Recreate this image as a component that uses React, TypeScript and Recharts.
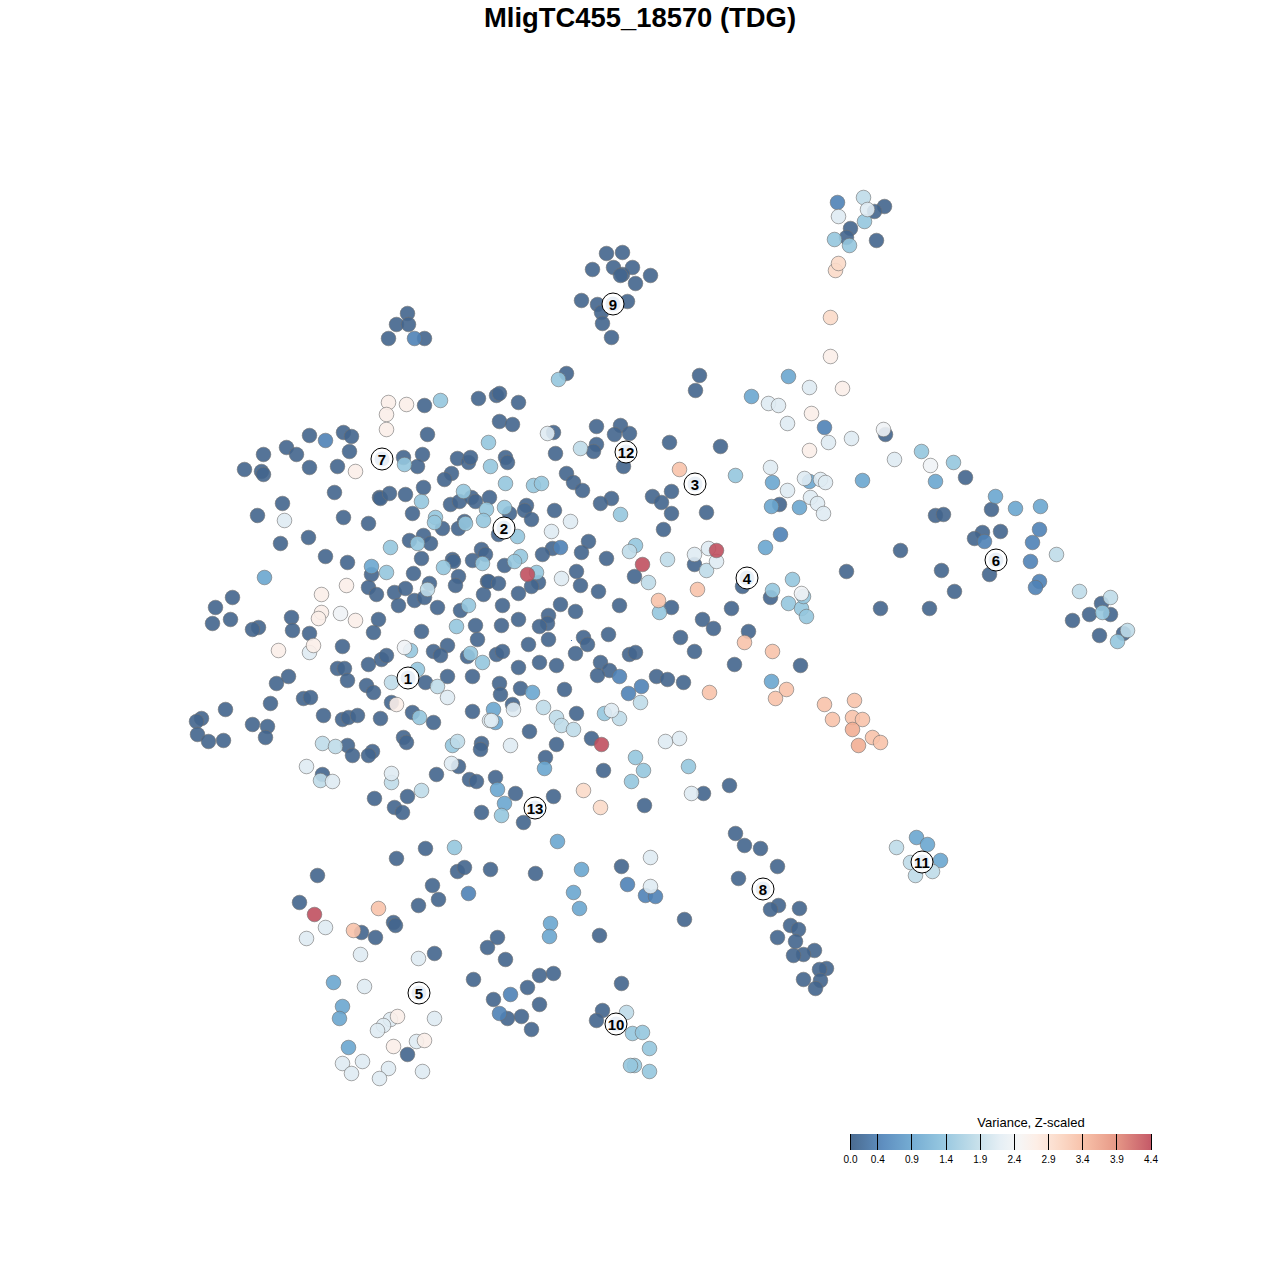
import React from 'react';
import { ScatterChart, Scatter, XAxis, YAxis } from 'recharts';

type Pt = [number, number];

// Embedding positions, grouped by colour step (low variance to high)
const level0: Pt[] = [
  [478,398],[424,405],[427,434],[309,435],[343,432],[351,436],[263,454],[286,447],[296,454],[349,451],
  [244,469],[261,471],[263,474],[309,467],[337,466],[403,457],[422,454],[417,466],[457,458],[468,462],
  [470,457],[451,473],[444,479],[334,492],[379,497],[380,498],[389,493],[405,494],[423,487],[282,503],
  [257,515],[343,517],[368,523],[412,513],[450,504],[459,501],[471,497],[475,501],[489,497],[442,528],
  [458,528],[464,521],[308,537],[280,543],[325,556],[347,562],[409,540],[423,535],[430,543],[421,558],
  [452,559],[453,561],[472,560],[481,549],[371,574],[413,573],[458,576],[455,585],[487,581],[368,587],
  [376,594],[394,592],[405,588],[429,583],[414,600],[424,597],[398,605],[437,607],[460,610],[483,594],
  [232,597],[215,607],[212,623],[230,619],[291,617],[258,627],[252,629],[292,630],[309,633],[378,619],
  [373,632],[421,631],[475,625],[496,395],[499,393],[518,402],[499,421],[512,424],[553,432],[596,426],
  [620,425],[614,434],[629,433],[596,444],[593,451],[555,453],[669,442],[720,446],[695,390],[699,375],
  [623,466],[566,473],[573,482],[582,490],[611,498],[600,503],[652,496],[661,502],[671,491],[671,513],
  [706,512],[663,529],[505,457],[507,462],[526,505],[524,510],[531,519],[554,510],[509,513],[498,534],
  [588,541],[581,552],[552,548],[542,554],[606,558],[485,554],[504,565],[694,564],[576,571],[634,576],
  [488,581],[498,583],[538,582],[531,586],[518,593],[580,585],[598,591],[502,605],[560,604],[575,611],
  [619,605],[671,607],[702,619],[713,628],[518,619],[501,625],[548,615],[547,623],[539,626],[731,608],
  [342,646],[477,639],[447,645],[433,651],[440,655],[467,656],[368,664],[381,659],[386,655],[337,668],
  [344,668],[347,680],[288,676],[276,683],[366,685],[373,692],[425,682],[447,676],[472,676],[270,703],
  [303,698],[310,697],[391,702],[225,709],[201,718],[196,721],[197,734],[208,741],[223,740],[252,724],
  [267,726],[265,737],[323,715],[342,719],[348,717],[357,715],[380,718],[412,712],[433,722],[472,711],
  [403,737],[406,742],[347,745],[352,755],[372,751],[368,755],[481,743],[480,749],[458,766],[436,774],
  [469,779],[476,781],[322,774],[407,796],[374,798],[394,807],[402,812],[481,812],[425,848],[548,639],
  [528,644],[583,637],[587,644],[608,634],[575,653],[496,654],[502,651],[629,654],[635,652],[680,637],
  [694,651],[518,667],[539,662],[556,665],[600,662],[609,670],[597,675],[656,676],[667,679],[683,682],
  [499,683],[520,688],[500,694],[564,689],[512,704],[576,713],[529,731],[591,738],[556,744],[545,757],
  [603,770],[495,777],[515,793],[553,796],[523,822],[644,805],[703,793],[729,785],[734,664],[566,373],
  [779,504],[885,434],[900,550],[742,586],[770,597],[846,571],[880,608],[929,608],[748,631],[800,665],
  [965,477],[991,509],[1000,531],[982,532],[974,538],[935,515],[943,514],[941,570],[954,591],[989,574],
  [1101,603],[1089,614],[1110,614],[1072,620],[1099,635],[1123,633],[396,858],[317,875],[457,871],[464,867],
  [490,869],[535,873],[432,885],[438,899],[418,905],[299,902],[393,922],[395,925],[361,932],[375,937],
  [497,937],[487,947],[505,959],[434,953],[473,979],[539,975],[553,973],[527,987],[493,999],[539,1004],
  [507,1018],[521,1016],[531,1029],[407,1054],[621,866],[684,919],[599,935],[621,983],[602,1010],[596,1020],
  [735,833],[744,845],[760,848],[777,866],[738,878],[778,905],[770,909],[799,908],[790,925],[798,929],
  [777,937],[795,941],[814,950],[803,954],[793,955],[826,968],[819,969],[803,979],[820,980],[815,988],
  [606,253],[622,252],[592,269],[613,267],[632,267],[622,274],[620,275],[650,275],[635,283],[581,300],
  [597,304],[627,301],[601,312],[602,323],[611,337],[407,313],[396,324],[408,324],[388,338],[424,338],
  [884,206],[874,211],[850,228],[846,237],[876,240],
];
const level1: Pt[] = [
  [325,440],[560,547],[619,676],[641,686],[628,693],[824,427],[780,534],[468,893],[510,994],[499,1013],
  [414,338],[1039,529],[1032,542],[984,541],[1030,561],[1039,581],[1035,587],[837,202],[627,884],[645,895],[655,896],
];
const level2: Pt[] = [
  [371,566],[264,577],[532,692],[493,709],[495,722],[544,768],[497,789],[504,803],[557,841],[788,376],
  [751,396],[772,482],[771,506],[799,507],[862,480],[765,547],[809,481],[771,681],[935,481],[995,496],
  [1015,508],[1040,506],[333,982],[342,1006],[339,1018],[348,1047],[550,923],[549,936],[581,869],[573,892],
  [579,908],[916,837],[927,844],[940,860],
];
const level3: Pt[] = [
  [440,400],[488,442],[404,464],[421,501],[463,491],[486,509],[435,517],[434,522],[483,520],[465,523],
  [390,547],[417,543],[443,567],[482,563],[386,572],[490,466],[468,605],[456,626],[505,483],[533,485],
  [541,483],[504,507],[517,536],[520,556],[514,561],[536,572],[620,514],[635,545],[659,612],[558,379],
  [410,650],[470,653],[482,662],[417,669],[419,717],[452,745],[454,847],[604,713],[501,815],[635,757],
  [643,770],[631,781],[688,766],[735,475],[792,579],[772,590],[788,603],[801,608],[806,616],[803,596],
  [921,451],[953,462],[1102,612],[1117,641],[834,239],[864,221],[849,245],[632,1033],[642,1032],[649,1048],
  [634,1065],[630,1065],[649,1071],
];
const level4: Pt[] = [
  [427,589],[580,448],[629,551],[667,559],[648,582],[706,570],[391,682],[437,686],[322,743],[335,746],
  [457,741],[391,782],[320,780],[421,790],[543,707],[556,717],[561,725],[573,729],[619,718],[640,702],
  [1056,554],[1079,591],[1110,597],[1127,630],[896,847],[910,862],[932,871],[915,875],[863,197],[626,1012],
];
const level5: Pt[] = [
  [284,520],[547,433],[570,521],[551,531],[561,578],[694,554],[708,548],[716,561],[309,652],[447,697],
  [306,766],[332,781],[451,763],[391,773],[489,720],[513,709],[491,720],[611,710],[510,745],[665,741],
  [679,738],[691,793],[809,387],[768,403],[778,405],[787,423],[828,442],[851,438],[770,467],[804,478],
  [820,479],[825,482],[787,490],[810,497],[817,503],[823,513],[894,459],[867,209],[838,216],[325,927],
  [306,938],[360,954],[418,958],[364,986],[434,1018],[390,1019],[383,1025],[377,1030],[416,1041],[342,1063],
  [362,1061],[351,1073],[388,1068],[379,1078],[422,1071],[650,857],[650,886],
];
const level6: Pt[] = [[340,613],[404,647],[883,429],[801,593],[930,465]];
const level7: Pt[] = [
  [388,402],[406,404],[386,414],[386,429],[355,471],[346,585],[321,594],[321,612],[318,618],[355,620],
  [278,650],[313,645],[396,704],[397,1016],[393,1046],[424,1040],[830,356],[842,388],[811,413],[809,450],
];
const level8: Pt[] = [[583,790],[600,807],[835,270],[838,263],[830,317]];
const level9: Pt[] = [
  [679,469],[697,589],[658,600],[709,692],[744,642],[772,651],[786,689],[775,698],[824,704],[854,700],
  [832,719],[852,717],[862,719],[872,737],[880,742],[378,908],[353,930],
];
const level10: Pt[] = [[852,729],[858,745]];
const level11: Pt[] = [[527,574],[642,564],[716,550],[601,744],[314,914]];
const specks: Pt[] = [[571,640]];

const levelColors = ['#42658d', '#4f82b6', '#6aa6cf', '#95c6de', '#bfdbe9', '#dfebf3', '#eff3f6', '#fbeee9', '#fbdac9', '#f8c3ab', '#f2ae94', '#c0505f'];
const levels = [level0, level1, level2, level3, level4, level5, level6, level7, level8, level9, level10, level11];

const clusterIds = ['1', '2', '3', '4', '5', '6', '7', '8', '9', '10', '11', '12', '13'];
const clusterCenters: Pt[] = [
  [407.5,677.5],[503.5,527.5],[694.5,483.5],[746.5,577.5],[418.5,992.5],[995.5,559.5],[381.5,458.5],[762.5,888.5],[612.5,303.5],[615.5,1023.5],[921.5,861.5],[625.5,451.5],[534.5,807.5],
];

const legendTicks = [0.0, 0.4, 0.9, 1.4, 1.9, 2.4, 2.9, 3.4, 3.9, 4.4];
const legendMax = 4.4;
const legendGradient = 'linear-gradient(to right, #4a6b90 0%, #5f8fc0 11%, #74abd2 20%, #93c5df 30%, #c5dfea 42%, #e6eff5 50%, #f6f6f6 56%, #fdeee6 62%, #fbd9c7 70%, #f7c0a8 78%, #e79a88 88%, #c55a68 100%)';

const font = '"Liberation Sans", Arial, sans-serif';

const toPoints = (pts: Pt[]) => pts.map(([x, y]) => ({ x, y }));

const Dot = (color: string) => (props: any) => (
  <circle cx={props.cx} cy={props.cy} r={7.3} fill={color} fillOpacity={0.9} stroke="#6f6f6f" strokeOpacity={0.6} strokeWidth={1} />
);

const Speck = (props: any) => <circle cx={props.cx} cy={props.cy} r={0.6} fill="#2a5a9a" />;

const ClusterMark = (props: any) => (
  <g>
    <circle cx={props.cx} cy={props.cy} r={11} fill="#ffffff" stroke="#000000" strokeWidth={1} />
    <circle cx={props.cx} cy={props.cy} r={7.5} fill="#eaf0f7" />
    <text x={props.cx} y={props.cy + 5.5} textAnchor="middle" fontFamily={font} fontWeight="bold" fontSize={15} fill="#000000">
      {props.payload.id}
    </text>
  </g>
);

export default function App() {
  const clusterData = clusterCenters.map(([x, y], i) => ({ x, y, id: clusterIds[i] }));

  return (
    <div style={{ position: 'absolute', left: 0, top: 0, width: 1280, height: 1280, background: '#fff', overflow: 'hidden' }}>
      <ScatterChart width={1280} height={1280} margin={{ top: 0, right: 0, bottom: 0, left: 0 }}>
        <XAxis type="number" dataKey="x" domain={[-0.5, 1279.5]} hide />
        <YAxis type="number" dataKey="y" domain={[-0.5, 1279.5]} reversed hide />
        {levels.map((pts, i) => (
          <Scatter key={i} data={toPoints(pts)} shape={Dot(levelColors[i])} isAnimationActive={false} />
        ))}
        <Scatter data={toPoints(specks)} shape={Speck} isAnimationActive={false} />
        <Scatter data={clusterData} shape={ClusterMark} isAnimationActive={false} />
      </ScatterChart>

      <div style={{ position: 'absolute', left: 0, width: 1280, top: 3, textAlign: 'center', fontFamily: font, fontWeight: 'bold', fontSize: 27.4, lineHeight: '30px', color: '#000' }}>
        MligTC455_18570 (TDG)
      </div>

      {/* colour key */}
      <div style={{ position: 'absolute', left: 931, width: 200, top: 1116, textAlign: 'center', fontFamily: font, fontSize: 13, lineHeight: '14px', color: '#000' }}>
        Variance, Z-scaled
      </div>
      <div style={{ position: 'absolute', left: 850, top: 1134, width: 301, height: 16, background: legendGradient }} />
      {legendTicks.map((t) => {
        const left = 850 + (t / legendMax) * 300.5;
        return (
          <React.Fragment key={t}>
            <div style={{ position: 'absolute', left: Math.round(left), top: 1134, width: 1, height: 16, background: '#000' }} />
            <div style={{ position: 'absolute', left: left - 20, width: 41, top: 1154, textAlign: 'center', fontFamily: font, fontSize: 10, lineHeight: '12px', color: '#000' }}>
              {t.toFixed(1)}
            </div>
          </React.Fragment>
        );
      })}
    </div>
  );
}
